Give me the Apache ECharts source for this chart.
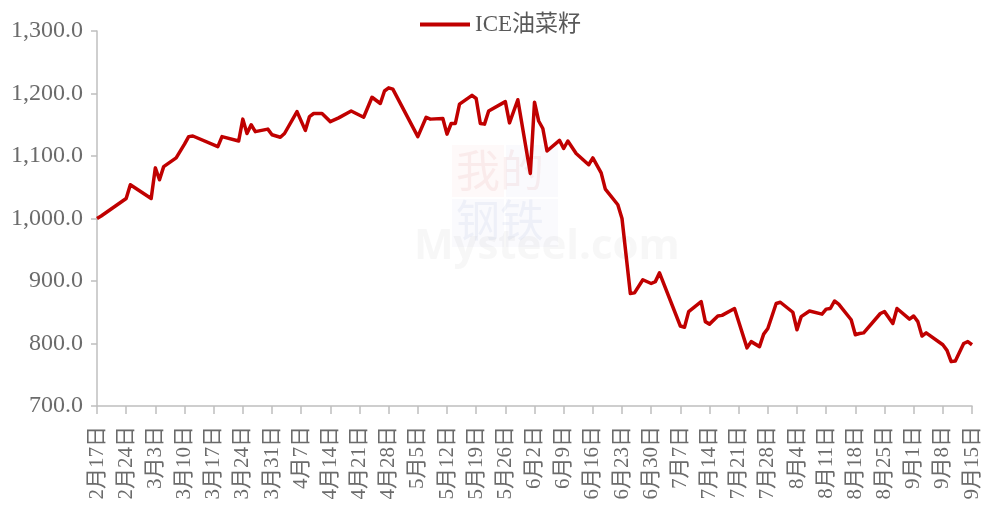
<!DOCTYPE html>
<html>
<head>
<meta charset="utf-8">
<script src="https://cdn.jsdelivr.net/npm/echarts@6/dist/echarts.min.js"></script>
<style>html,body{margin:0;padding:0;background:#fff;}#c{width:984px;height:508px;}</style>
</head>
<body>
<div id="c"></div>
<script>
const seriesName = 'ICE油菜籽';
const startDate = '2025-02-17';
const endDate = '2025-09-15';
const yTicks = [700, 800, 900, 1000, 1100, 1200, 1300];
const dates = [
 '2025-02-17','2025-02-18','2025-02-24','2025-02-25','2025-03-02','2025-03-03','2025-03-04','2025-03-05','2025-03-08','2025-03-10',
 '2025-03-11','2025-03-12','2025-03-18','2025-03-19','2025-03-23','2025-03-24','2025-03-25','2025-03-26','2025-03-27','2025-03-30',
 '2025-03-31','2025-04-02','2025-04-03','2025-04-06','2025-04-08','2025-04-09','2025-04-10','2025-04-12','2025-04-14','2025-04-16',
 '2025-04-19','2025-04-22','2025-04-24','2025-04-26','2025-04-27','2025-04-28','2025-04-29','2025-05-05','2025-05-07','2025-05-08',
 '2025-05-11','2025-05-12','2025-05-13','2025-05-14','2025-05-15','2025-05-18','2025-05-19','2025-05-20','2025-05-21','2025-05-22',
 '2025-05-26','2025-05-27','2025-05-29','2025-06-01','2025-06-02','2025-06-03','2025-06-04','2025-06-05','2025-06-08','2025-06-09',
 '2025-06-10','2025-06-12','2025-06-15','2025-06-16','2025-06-18','2025-06-19','2025-06-22','2025-06-23','2025-06-25','2025-06-26',
 '2025-06-28','2025-06-30','2025-07-01','2025-07-02','2025-07-07','2025-07-08','2025-07-09','2025-07-12','2025-07-13','2025-07-14',
 '2025-07-16','2025-07-17','2025-07-20','2025-07-23','2025-07-24','2025-07-26','2025-07-27','2025-07-28','2025-07-30','2025-07-31',
 '2025-08-03','2025-08-04','2025-08-05','2025-08-07','2025-08-10','2025-08-11','2025-08-12','2025-08-13','2025-08-14','2025-08-17',
 '2025-08-18','2025-08-19','2025-08-20','2025-08-24','2025-08-25','2025-08-27','2025-08-28','2025-08-31','2025-09-01','2025-09-02',
 '2025-09-03','2025-09-04','2025-09-08','2025-09-09','2025-09-10','2025-09-11','2025-09-13','2025-09-14','2025-09-15'
];
const values = [
 1000,1004,1032,1054,1032,1081,1062,1083,1097,1119,
 1131,1132,1115,1131,1124,1159,1136,1150,1139,1143,
 1134,1130,1136,1171,1141,1163,1168,1168,1155,1161,
 1172,1162,1194,1184,1204,1209,1207,1131,1162,1159,
 1160,1135,1152,1152,1183,1197,1192,1152,1151,1172,
 1187,1153,1190,1072,1186,1156,1144,1108,1125,1112,
 1124,1104,1086,1097,1073,1047,1022,1000,880,881,
 902,896,899,913,828,826,851,867,835,831,
 844,845,856,793,803,795,815,824,864,866,
 850,822,843,852,847,855,856,868,863,838,
 814,816,817,848,851,832,856,839,844,835,
 812,817,798,789,771,772,800,803,798
];

const DAY = 86400000;
function toDay(s){ const p = s.split('-').map(Number); return Date.UTC(p[0], p[1]-1, p[2]); }
const t0 = toDay(startDate);
const dayIndex = d => Math.round((toDay(d) - t0) / DAY);
const xMax = dayIndex(endDate);
const points = dates.map((d, i) => [dayIndex(d), values[i]]);

function dayLabel(v){
  const dt = new Date(t0 + v * DAY);
  return (dt.getUTCMonth() + 1) + '月' + dt.getUTCDate() + '日';
}
function fmtNum(v){
  const s = v.toFixed(1);
  const parts = s.split('.');
  return parts[0].replace(/\B(?=(\d{3})+(?!\d))/g, ',') + '.' + parts[1];
}

const chart = echarts.init(document.getElementById('c'));
chart.setOption({
  animation: false,
  backgroundColor: '#ffffff',
  graphic: [
    { type: 'rect', left: 452, top: 145, shape: { width: 52, height: 52 }, style: { fill: 'rgba(230,80,80,0.035)' }, silent: true },
    { type: 'rect', left: 506, top: 145, shape: { width: 52, height: 52 }, style: { fill: 'rgba(80,100,200,0.03)' }, silent: true },
    { type: 'rect', left: 452, top: 199, shape: { width: 52, height: 48 }, style: { fill: 'rgba(80,100,200,0.03)' }, silent: true },
    { type: 'rect', left: 506, top: 199, shape: { width: 52, height: 48 }, style: { fill: 'rgba(80,100,200,0.03)' }, silent: true },
    { type: 'text', left: 456, top: 148, style: { text: '我的', font: '44px "Noto Sans CJK SC"', fill: 'rgba(220,120,120,0.10)' }, silent: true },
    { type: 'text', left: 456, top: 198, style: { text: '钢铁', font: '44px "Noto Sans CJK SC"', fill: 'rgba(120,140,200,0.09)' }, silent: true },
    { type: 'text', left: 414, top: 226, style: { text: 'Mysteel.com', font: 'bold 42px "Open Sans"', fill: 'rgba(200,200,200,0.14)' }, silent: true }
  ],
  legend: {
    data: [{ name: seriesName, icon: 'rect' }],
    left: 415,
    top: 8,
    itemWidth: 50,
    itemHeight: 4,
    itemGap: 10,
    textStyle: { fontFamily: '"Liberation Serif", "Noto Sans CJK SC", serif', fontSize: 23, color: '#595959' }
  },
  grid: { left: 97, right: 12, top: 31, bottom: 102, containLabel: false },
  xAxis: {
    type: 'value',
    min: 0,
    max: xMax,
    interval: 7,
    axisLine: { show: true, lineStyle: { color: '#bfbfbf', width: 1.5 } },
    axisTick: { show: true, length: 8, lineStyle: { color: '#bfbfbf', width: 1.5 } },
    splitLine: { show: false },
    axisLabel: {
      rotate: 90,
      margin: 20,
      formatter: dayLabel,
      fontFamily: '"Liberation Serif", "Noto Sans CJK SC", serif',
      fontSize: 21,
      color: '#6b6b6b'
    }
  },
  yAxis: {
    type: 'value',
    min: 700,
    max: 1300,
    interval: 100,
    axisLine: { show: true, lineStyle: { color: '#bfbfbf', width: 1.5 } },
    axisTick: { show: true, inside: false, length: 6, lineStyle: { color: '#bfbfbf', width: 1.5 } },
    splitLine: { show: false },
    axisLabel: {
      margin: 14,
      formatter: v => yTicks.indexOf(v) >= 0 ? fmtNum(v) : '',
      fontFamily: '"Liberation Serif", serif',
      fontSize: 24,
      color: '#6b6b6b'
    }
  },
  series: [{
    name: seriesName,
    type: 'line',
    data: points,
    showSymbol: false,
    symbol: 'none',
    lineStyle: { color: '#c00000', width: 3.5, join: 'round' },
    itemStyle: { color: '#c00000' }
  }]
});
</script>
</body>
</html>
